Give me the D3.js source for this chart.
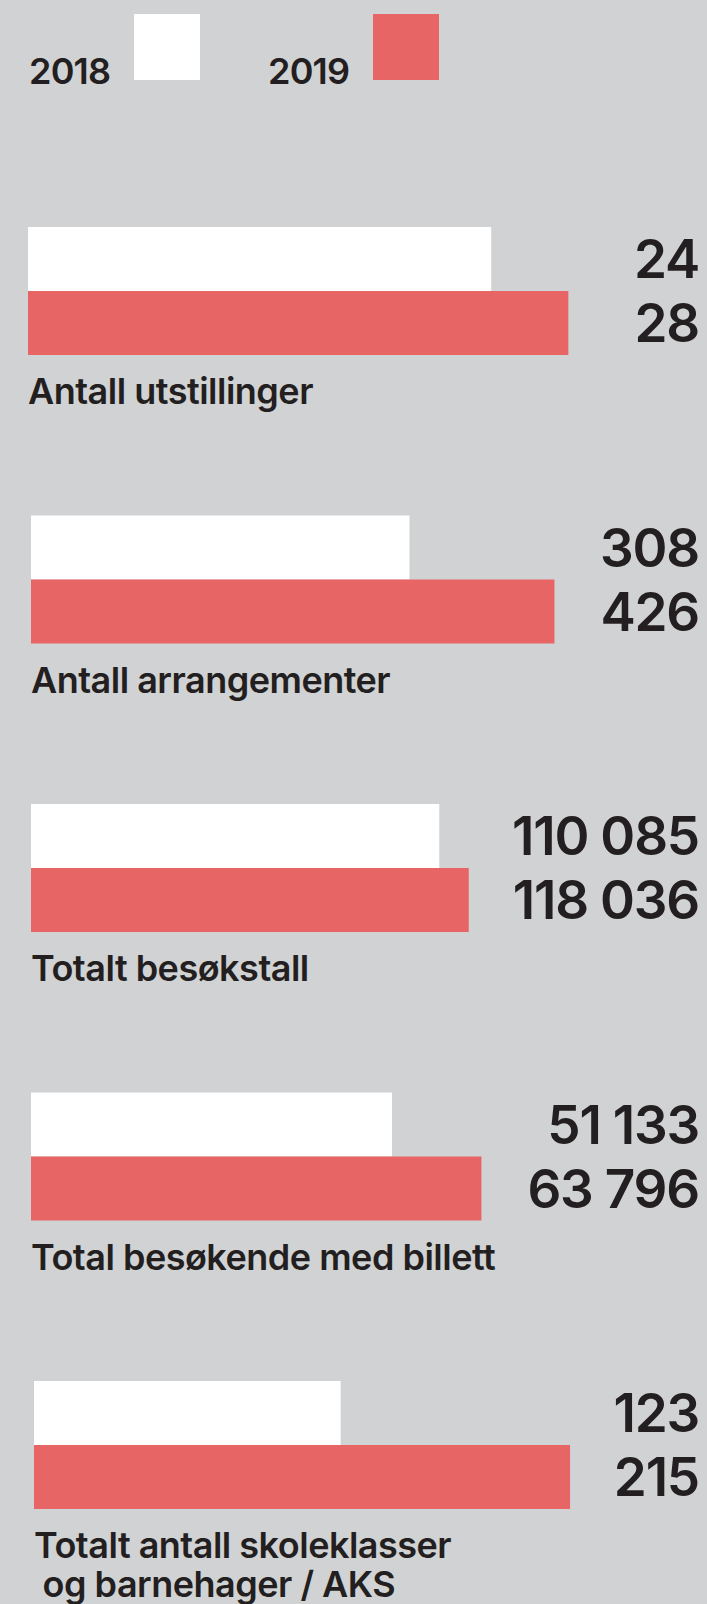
<!DOCTYPE html>
<html>
<head>
<meta charset="utf-8">
<script src="https://cdn.jsdelivr.net/npm/d3@7"></script>
<style>
  html, body { margin: 0; padding: 0; background: #d1d2d4; }
  svg { display: block; }
  text { font-family: Inter, Roboto, sans-serif; fill: #231f20; }
</style>
</head>
<body>
<div id="chart"></div>
<script>
// data
const years = ['2018', '2019']
const categories = [
    ['Antall utstillinger'],
    ['Antall arrangementer'],
    ['Totalt besøkstall'],
    ['Total besøkende med billett'],
    ['Totalt antall skoleklasser', ' og barnehager / AKS']
]
const values2018 = [24, 308, 110085, 51133, 123]
const values2019 = [28, 426, 118036, 63796, 215]
// each panel has its own scale in the original
const axisMax = [28.5, 447.6, 148300, 77900, 220.6]

const colors = { '2018': '#ffffff', '2019': '#e76565' }

let dimensions = {
    width: 707,
    height: 1604,
    barWidth: 550,
    groupLeft: [28, 31, 31, 31, 34],
    valueRight: 699
}

const fmt = d3.formatLocale({ decimal: ',', thousands: ' ', grouping: [3], currency: ['', ''] }).format(',d')

const svg = d3.select('#chart')
    .append('svg')
    .attr('width', dimensions.width)
    .attr('height', dimensions.height)

// legend
const legend = svg.append('g')
const legendX = d3.scalePoint().domain(years).range([29, 268])
years.forEach(y => {
    const g = legend.append('g').attr('transform', `translate(${legendX(y)}, 0)`)
    g.append('text')
        .attr('x', 0)
        .attr('y', 84)
        .attr('font-size', 36)
        .attr('font-weight', 600)
        .attr('letter-spacing', -0.8)
        .text(y)
    g.append('rect')
        .attr('x', 105)
        .attr('y', 14)
        .attr('width', 66)
        .attr('height', 66)
        .attr('fill', colors[y])
})

// panels
const yGroup = d3.scalePoint()
    .domain(d3.range(categories.length))
    .range([227, 1381])

const yBar = d3.scaleBand()
    .domain(years)
    .range([0, 128])

const panels = svg.selectAll('g.panel')
    .data(categories.map((c, i) => ({
        label: c,
        i: i,
        vals: [{ year: '2018', v: values2018[i] }, { year: '2019', v: values2019[i] }]
    })))
    .join('g')
    .attr('class', 'panel')
    .attr('transform', d => `translate(0, ${yGroup(d.i)})`)

panels.each(function (d) {
    const g = d3.select(this)
    const left = dimensions.groupLeft[d.i]
    const x = d3.scaleLinear()
        .domain([0, axisMax[d.i]])
        .range([left, left + dimensions.barWidth])

    g.selectAll('rect')
        .data(d.vals)
        .join('rect')
        .attr('x', x(0))
        .attr('y', v => yBar(v.year))
        .attr('width', v => x(v.v) - x(0))
        .attr('height', yBar.bandwidth())
        .attr('fill', v => colors[v.year])

    g.selectAll('text.value')
        .data(d.vals)
        .join('text')
        .attr('class', 'value')
        .attr('x', dimensions.valueRight)
        .attr('y', v => yBar(v.year) + yBar.bandwidth() / 2 + 19)
        .attr('text-anchor', 'end')
        .attr('font-size', 53)
        .attr('font-weight', 600)
        .attr('letter-spacing', -1.2)
        .text(v => fmt(v.v))

    g.selectAll('text.label')
        .data(d.label)
        .join('text')
        .attr('class', 'label')
        .attr('x', left)
        .attr('y', (l, j) => 177 + j * 39)
        .attr('font-size', 36)
        .attr('font-weight', 600)
        .attr('letter-spacing', -0.5)
        .style('white-space', 'pre')
        .text(l => l)
})
</script>
</body>
</html>
